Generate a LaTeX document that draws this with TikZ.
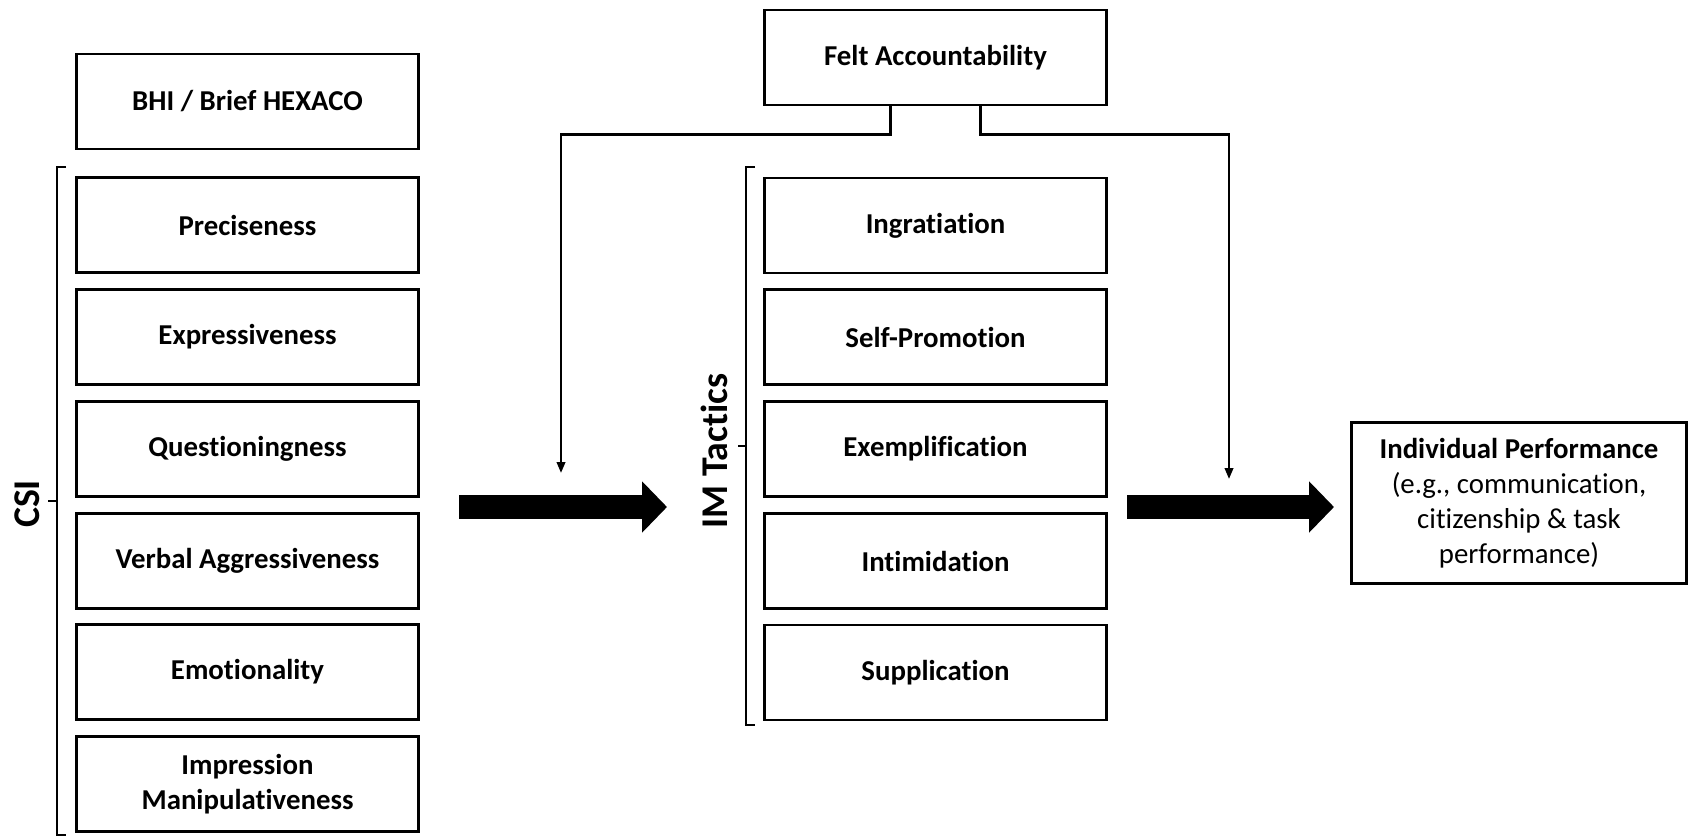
\documentclass[tikz,border=0pt]{standalone}
\usepackage{fontspec}
\setmainfont{Carlito}[Ligatures=NoCommon]
\usetikzlibrary{arrows.meta}

\begin{document}
\begin{tikzpicture}[x=0.02cm, y=-0.02cm,
  item/.style={rectangle, draw=black, line width=1.6pt, minimum width=6.85cm,
               minimum height=1.9cm, text centered, align=center,
               font=\fontsize{16.4}{20}\selectfont\bfseries},
  outcome/.style={rectangle, draw=black, line width=1.6pt, minimum width=6.7cm,
                  minimum height=3.22cm, text centered, align=center,
                  font=\fontsize{16.4}{19.9}\selectfont},
  group/.style={font=\fontsize{21.5}{24}\selectfont\bfseries, rotate=90},
  brace/.style={line width=1.4pt},
  mod/.style={-{Triangle[length=0.22cm,width=0.17cm]}, line width=1.3pt},
  flow/.style={-{Triangle[length=0.5cm,width=1cm]}, line width=0.48cm},
]
\useasboundingbox (0,0) rectangle (1690,838);
% personality and communication styles
\node[item] (bhi) at (247.5,101.5) {BHI / Brief HEXACO};
\node[item] (c1) at (247.5,225) {Preciseness};
\node[item] (c2) at (247.5,337) {Expressiveness};
\node[item] (c3) at (247.5,449) {Questioningness};
\node[item] (c4) at (247.5,561) {Verbal Aggressiveness};
\node[item] (c5) at (247.5,672) {Emotionality};
\node[item] (c6) at (247.5,784) {Impression\\Manipulativeness};
\draw[brace] (66,167) -- (57,167) -- (57,835) -- (66,835); \draw[brace] (57,501) -- (48,501);
\node[group] (csi) at (27,504) {CSI};
% moderator
\node[item] (fa) at (935.5,57.5) {Felt Accountability};
% impression management tactics
\node[item] (t1) at (935.5,225.5) {Ingratiation};
\node[item] (t2) at (935.5,337) {Self-Promotion};
\node[item] (t3) at (935.5,449) {Exemplification};
\node[item] (t4) at (935.5,561) {Intimidation};
\node[item] (t5) at (935.5,672.5) {Supplication};
\draw[brace] (755,167) -- (746,167) -- (746,725) -- (755,725); \draw[brace] (746,446) -- (738,446);
\node[group] (im) at (714,451) {IM Tactics};
% outcome
\node[outcome] (perf) at (1519,503) {\textbf{Individual Performance}\\(e.g., communication,\\citizenship \& task\\performance)};
% arrows
\coordinate (csiout) at (459,507); \coordinate (imin) at (667,507);
\coordinate (imout) at (1127,507); \coordinate (perfin) at (1334,507);
\draw[flow] (csiout) -- (imin);
\draw[flow] (imout) -- (perfin);
\coordinate (modl) at (561,473); \coordinate (modr) at (1229,479);
\draw[mod] ([xshift=-0.9cm]fa.south) -- ++(0,28) -| (modl);
\draw[mod] ([xshift=0.9cm]fa.south) -- ++(0,28) -| (modr);
\end{tikzpicture}
\end{document}
